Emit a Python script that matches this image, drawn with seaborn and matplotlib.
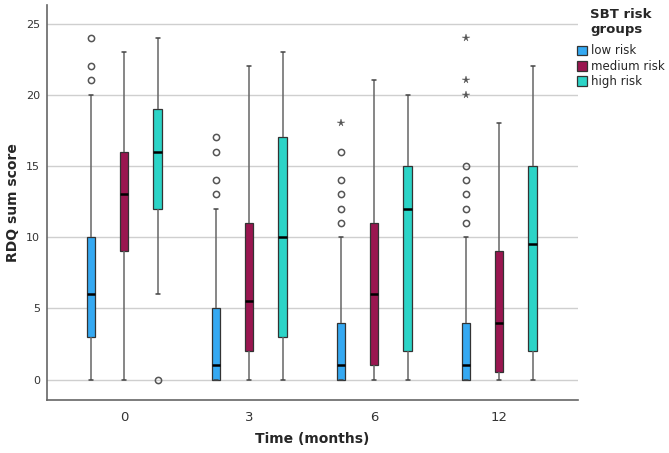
import numpy as np
import pandas as pd
import seaborn as sns
import matplotlib.pyplot as plt

months = ["0", "3", "6", "12"]
groups = ["low risk", "medium risk", "high risk"]
colors = ["#35A9F2", "#9A1650", "#2CD4C7"]

# box summaries; rows = months, columns = risk groups
whisk_lo = [[0, 0, 6], [0, 0, 0], [0, 0, 0], [0, 0, 0]]
q1 = [[3, 9, 12], [0, 2, 3], [0, 1, 2], [0, 0.5, 2]]
median = [[6, 13, 16], [1, 5.5, 10], [1, 6, 12], [1, 4, 9.5]]
q3 = [[10, 16, 19], [5, 11, 17], [4, 11, 15], [4, 9, 15]]
whisk_hi = [[20, 23, 24], [12, 22, 23], [10, 21, 20], [10, 18, 22]]

# outliers (circles) and extreme values (stars)
outliers = {
    ("0", "low risk"): [21, 22, 24],
    ("0", "high risk"): [0],
    ("3", "low risk"): [13, 14, 16, 17],
    ("6", "low risk"): [11, 12, 13, 14, 16],
    ("12", "low risk"): [11, 12, 13, 14, 15],
}
extremes = {
    ("6", "low risk"): [18],
    ("12", "low risk"): [20, 21, 24],
}

# seaborn wants raw values, so repeat each summary value so that the
# computed quartiles land exactly on the values
REP = 50
rows = []
for i, m in enumerate(months):
    for j, g in enumerate(groups):
        vals = []
        for arr in (whisk_lo, q1, median, q3, whisk_hi):
            vals += [arr[i][j]] * REP
        vals += outliers.get((m, g), []) + extremes.get((m, g), [])
        for v in vals:
            rows.append({"month": m, "group": g, "score": v})
df = pd.DataFrame(rows)

sns.set_style("white")
plt.rcParams["font.family"] = ["DejaVu Sans"]

fig, ax = plt.subplots(figsize=(6.69, 4.53), dpi=100)
fig.subplots_adjust(left=0.07, right=0.864, bottom=0.118, top=0.989)

grey = "#555555"
sns.boxplot(data=df, x="month", y="score", hue="group", order=months,
            hue_order=groups, palette=colors, saturation=1, width=0.8,
            gap=0.75, linewidth=0.9, linecolor="#333333",
            whiskerprops=dict(color="#666666", linewidth=1.1),
            capprops=dict(color="#444444", linewidth=1.1),
            medianprops=dict(color="black", linewidth=1.8),
            flierprops=dict(marker="o", markersize=4.5, markerfacecolor="none",
                            markeredgecolor=grey, markeredgewidth=1.1),
            ax=ax)

# SPSS-style: extreme values drawn as stars
step = 0.8 / len(groups)
for line in list(ax.lines):
    if line.get_marker() != "o":
        continue
    x = np.asarray(line.get_xdata(), dtype=float)
    y = np.asarray(line.get_ydata(), dtype=float)
    if len(y) == 0:
        continue
    i = int(round(x[0]))
    j = int(round((x[0] - i) / step)) + 1
    ext = extremes.get((months[i], groups[j]), [])
    mask = np.isin(y, ext)
    if mask.any():
        line.set_data(x[~mask], y[~mask])
        ax.plot(x[mask], y[mask], marker="*", ls="none", color=grey,
                markersize=5.5, markeredgewidth=0.3)

ax.set_ylim(-1.4, 26.3)
ax.set_xlim(-0.62, 3.63)
ax.set_yticks([0, 5, 10, 15, 20, 25])
ax.yaxis.grid(True, color="#cfcfcf", linewidth=1)
ax.set_axisbelow(True)
ax.tick_params(length=0, labelsize=8, labelcolor="#333333", pad=5)
ax.tick_params(axis="x", labelsize=9.5, pad=8)
sns.despine(ax=ax)
for s in ("left", "bottom"):
    ax.spines[s].set_color("#666666")
    ax.spines[s].set_linewidth(1.2)

ax.set_xlabel("Time (months)", fontsize=10, fontweight="bold", labelpad=6)
ax.set_ylabel("RDQ sum score", fontsize=10, fontweight="bold", labelpad=4)

sns.move_legend(ax, "upper left", bbox_to_anchor=(0.862, 0.982),
                bbox_transform=fig.transFigure, title="SBT risk\ngroups",
                frameon=False, fontsize=8.5, title_fontsize=9.5,
                handlelength=0.9, handleheight=0.9, handletextpad=0.3,
                labelspacing=0.2, alignment="center", borderaxespad=0,
                borderpad=0)
leg = ax.get_legend()
leg.get_title().set_fontweight("bold")
leg._legend_box.sep = 6

fig.savefig("out.png", dpi=100)
